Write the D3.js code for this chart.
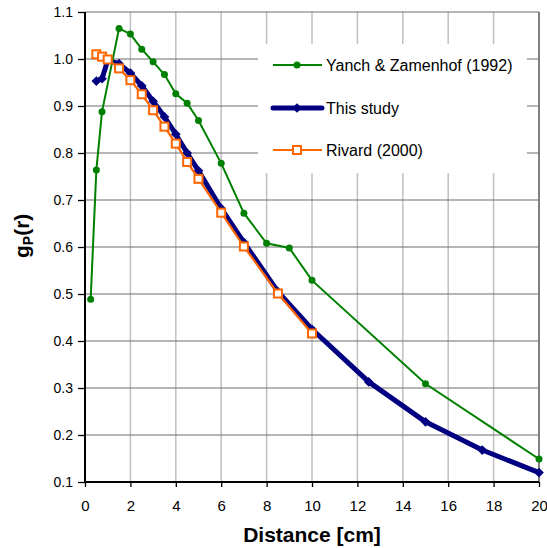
<!DOCTYPE html>
<html>
<head>
<meta charset="utf-8">
<script src="https://cdn.jsdelivr.net/npm/d3@7"></script>
<style>
  body { margin: 0; background: #fff; }
  svg { font-family: "Liberation Sans", Arial, sans-serif; }
</style>
</head>
<body>
<div id="root"></div>
<script>
// data
var yanchX = [0.25, 0.5, 0.75, 1.5, 2, 2.5, 3, 3.5, 4, 4.5, 5, 6, 7, 8, 9, 10, 15, 20];
var yanchY = [0.489, 0.764, 0.888, 1.065, 1.053, 1.021, 0.994, 0.967, 0.926, 0.906, 0.869, 0.778, 0.672, 0.608, 0.598, 0.529, 0.309, 0.149];
var studyX = [0.5, 0.75, 1, 1.5, 2, 2.5, 3, 3.5, 4, 4.5, 5, 6, 7, 8.5, 10, 12.5, 15, 17.5, 20];
var studyY = [0.953, 0.958, 0.997, 0.99, 0.97, 0.943, 0.91, 0.877, 0.84, 0.80, 0.762, 0.682, 0.61, 0.505, 0.425, 0.313, 0.228, 0.168, 0.12];
var rivardX = [0.5, 0.75, 1, 1.5, 2, 2.5, 3, 3.5, 4, 4.5, 5, 6, 7, 8.5, 10];
var rivardY = [1.01, 1.005, 0.999, 0.98, 0.955, 0.925, 0.891, 0.856, 0.82, 0.781, 0.745, 0.673, 0.601, 0.501, 0.416];
var xTicks = [0, 2, 4, 6, 8, 10, 12, 14, 16, 18, 20];
var yTicks = [0.1, 0.2, 0.3, 0.4, 0.5, 0.6, 0.7, 0.8, 0.9, 1.0, 1.1];

var w = 547, h = 548;
var margin = {top: 12, right: 8, bottom: 66, left: 85};

var xScale = d3.scaleLinear().domain([0, 20]).range([margin.left, w - margin.right]);
var yScale = d3.scaleLinear().domain([0.1, 1.1]).range([h - margin.bottom, margin.top]);

var svg = d3.select("#root").append("svg").attr("width", w).attr("height", h);
svg.append("rect").attr("width", w).attr("height", h).attr("fill", "white");

// gridlines
svg.append("g").selectAll("line").data(xTicks.slice(1)).enter().append("line")
  .attr("x1", d => xScale(d)).attr("x2", d => xScale(d))
  .attr("y1", yScale(1.1)).attr("y2", yScale(0.1))
  .attr("stroke", d => d == 20 ? "#808080" : "#c0c0c0").attr("stroke-width", d => d == 20 ? 2 : 1.5);
svg.append("g").selectAll("line").data(yTicks.slice(1)).enter().append("line")
  .attr("x1", xScale(0)).attr("x2", xScale(20))
  .attr("y1", d => yScale(d)).attr("y2", d => yScale(d))
  .attr("stroke", "#6e6e6e").attr("stroke-width", 1.2);

// legend background hides the grid under it
svg.append("rect").attr("x", 258).attr("y", 44).attr("width", 269).attr("height", 129).attr("fill", "white");

// axes
var xAxis = d3.axisBottom(xScale).tickValues(xTicks).tickSize(5).tickPadding(13).tickFormat(d3.format("d"));
var yAxis = d3.axisLeft(yScale).tickValues(yTicks).tickSize(7).tickPadding(5).tickFormat(d3.format(".1f"));
var gx = svg.append("g").attr("transform", "translate(0," + yScale(0.1) + ")").call(xAxis);
var gy = svg.append("g").attr("transform", "translate(" + xScale(0) + ",0)").call(yAxis);
[gx, gy].forEach(function(g) {
  g.select(".domain").attr("stroke", "black").attr("stroke-width", 2);
  g.selectAll(".tick line").attr("stroke", "black").attr("stroke-width", 1.3);
  g.selectAll("text").attr("fill", "black");
});
gx.selectAll("text").style("font-size", "15px");
gy.selectAll("text").style("font-size", "14px");
gy.select(".domain").attr("d", "M0," + yScale(1.1) + "V" + yScale(0.1));
gx.select(".domain").attr("d", "M" + xScale(0) + ",0H" + xScale(20));

var line = d3.line().x(d => xScale(d[0])).y(d => yScale(d[1]));
var study = studyX.map((x, i) => [x, studyY[i]]);
var yanch = yanchX.map((x, i) => [x, yanchY[i]]);
var rivard = rivardX.map((x, i) => [x, rivardY[i]]);

// This study
svg.append("path").datum(study).attr("d", line).attr("fill", "none")
  .attr("stroke", "#000080").attr("stroke-width", 5).attr("stroke-linejoin", "round");
svg.append("g").selectAll("path").data(study).enter().append("path")
  .attr("transform", d => "translate(" + xScale(d[0]) + "," + yScale(d[1]) + ")")
  .attr("d", d3.symbol().type(d3.symbolDiamond2).size(60)).attr("fill", "#000080");

// Yanch & Zamenhof
svg.append("path").datum(yanch).attr("d", line).attr("fill", "none")
  .attr("stroke", "#008000").attr("stroke-width", 2);
svg.append("g").selectAll("circle").data(yanch).enter().append("circle")
  .attr("cx", d => xScale(d[0])).attr("cy", d => yScale(d[1])).attr("r", 3.5).attr("fill", "#008000");

// Rivard
svg.append("path").datum(rivard).attr("d", line).attr("fill", "none")
  .attr("stroke", "#ff6600").attr("stroke-width", 2.2);
svg.append("g").selectAll("rect").data(rivard).enter().append("rect")
  .attr("x", d => xScale(d[0]) - 4).attr("y", d => yScale(d[1]) - 4)
  .attr("width", 8).attr("height", 8).attr("fill", "white")
  .attr("stroke", "#ff6600").attr("stroke-width", 2);

// legend
var legend = [
  {name: "Yanch & Zamenhof (1992)", color: "#008000", sw: 2, mark: "circle", y: 65},
  {name: "This study", color: "#000080", sw: 5, mark: "diamond", y: 108},
  {name: "Rivard (2000)", color: "#ff6600", sw: 2.2, mark: "square", y: 150}
];
legend.forEach(function(l) {
  svg.append("line").attr("x1", 273).attr("x2", 322).attr("y1", l.y).attr("y2", l.y)
    .attr("stroke", l.color).attr("stroke-width", l.sw).attr("stroke-linecap", l.sw > 3 ? "round" : "butt");
  if (l.mark == "circle") {
    svg.append("circle").attr("cx", 297).attr("cy", l.y).attr("r", 3.5).attr("fill", l.color);
  } else if (l.mark == "diamond") {
    svg.append("path").attr("transform", "translate(297," + l.y + ")")
      .attr("d", d3.symbol().type(d3.symbolDiamond2).size(60)).attr("fill", l.color);
  } else {
    svg.append("rect").attr("x", 293).attr("y", l.y - 4).attr("width", 8).attr("height", 8)
      .attr("fill", "white").attr("stroke", l.color).attr("stroke-width", 2);
  }
  svg.append("text").attr("x", 326).attr("y", l.y + 6).style("font-size", "16px").text(l.name);
});

// axis titles
svg.append("text").attr("x", (xScale(0) + xScale(20)) / 2).attr("y", 542)
  .attr("text-anchor", "middle").style("font-size", "21px").style("font-weight", "bold").text("Distance [cm]");
var yt = svg.append("text").attr("transform", "translate(29,258) rotate(-90)")
  .style("font-size", "21px").style("font-weight", "bold");
yt.append("tspan").text("g");
yt.append("tspan").attr("dy", 4).style("font-size", "14px").text("P");
yt.append("tspan").attr("dy", -4).text("(r)");
</script>
</body>
</html>
